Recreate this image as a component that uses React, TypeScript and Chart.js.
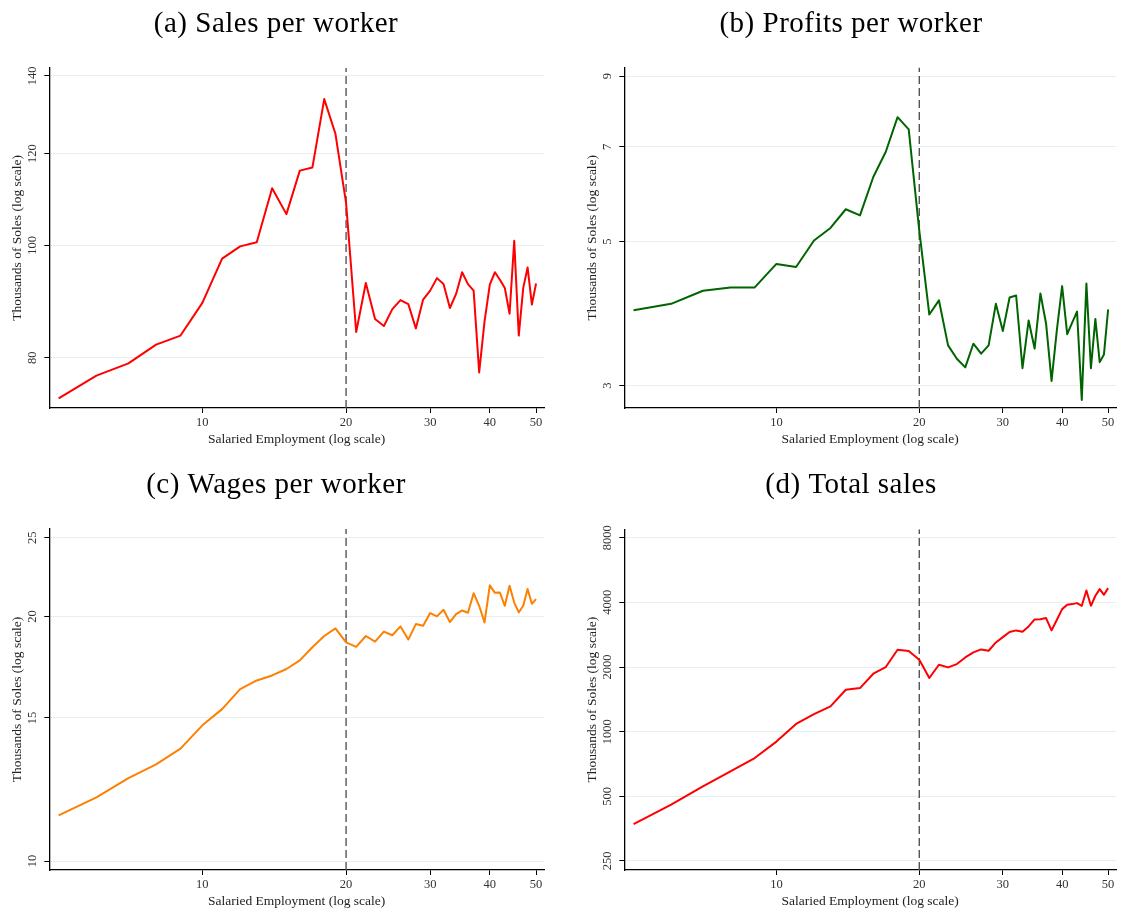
import React, { useEffect, useRef } from "react";
import { Chart, registerables } from "chart.js";

Chart.register(...registerables);

// ---------- data ----------
const employment = [
  5, 6, 7, 8, 9, 10, 11, 12, 13, 14, 15, 16, 17, 18, 19, 20,
  21, 22, 23, 24, 25, 26, 27, 28, 29, 30,
  31, 32, 33, 34, 35, 36, 37, 38, 39, 40,
  41, 42, 43, 44, 45, 46, 47, 48, 49, 50,
];

const salesPerWorker = [
  73.8, 77.2, 79.1, 82.1, 83.6, 89.2, 97.4, 99.8, 100.6, 112.0, 106.4, 116.0, 116.7, 133.7, 124.8, 108.8,
  84.2, 92.8, 86.4, 85.2, 88.1, 89.7, 89.0, 84.8, 89.8, 91.4,
  93.7, 92.6, 88.3, 90.8, 94.8, 92.6, 91.4, 77.7, 86.0, 92.5,
  94.8, 93.4, 91.9, 87.3, 100.9, 83.6, 91.9, 95.7, 88.9, 92.7,
];

const profitsPerWorker = [
  3.92, 4.01, 4.2, 4.25, 4.25, 4.62, 4.57, 5.02, 5.25, 5.61, 5.49, 6.29, 6.88, 7.78, 7.45, 5.2,
  3.86, 4.06, 3.46, 3.3, 3.2, 3.48, 3.36, 3.46, 4.01, 3.64,
  4.1, 4.13, 3.19, 3.78, 3.42, 4.16, 3.74, 3.05, 3.66, 4.27,
  3.6, 3.75, 3.9, 2.85, 4.31, 3.19, 3.8, 3.26, 3.35, 3.93,
];

const wagesPerWorker = [
  11.38, 11.98, 12.65, 13.15, 13.75, 14.69, 15.38, 16.28, 16.68, 16.92, 17.23, 17.66, 18.33, 18.92, 19.33, 18.58,
  18.35, 18.92, 18.62, 19.16, 18.96, 19.44, 18.73, 19.57, 19.48, 20.19,
  20.0, 20.38, 19.68, 20.13, 20.34, 20.21, 21.36, 20.61, 19.66, 21.84,
  21.38, 21.4, 20.61, 21.81, 20.8, 20.23, 20.61, 21.61, 20.73, 21.0,
];

const totalSales = [
  371, 457, 557, 654, 754, 899, 1086, 1208, 1312, 1568, 1596, 1861, 2000, 2407, 2373, 2162,
  1777, 2049, 1992, 2064, 2216, 2339, 2415, 2381, 2603, 2756,
  2909, 2961, 2919, 3090, 3331, 3340, 3379, 2961, 3318, 3720,
  3896, 3925, 3967, 3855, 4544, 3855, 4292, 4609, 4337, 4659,
];

const xTicks = [10, 20, 30, 40, 50];
const salesTicks = [80, 100, 120, 140];
const profitsTicks = [3, 5, 7, 9];
const wagesTicks = [10, 15, 20, 25];
const totalTicks = [250, 500, 1000, 2000, 4000, 8000];
const cutoff = 20;

const xTitle = "Salaried Employment (log scale)";
const yTitle = "Thousands of Soles (log scale)";

const FONT = '"Liberation Serif", "Times New Roman", serif';

type Panel = {
  title: string;
  values: number[];
  color: string;
  yTicks: number[];
  yMin: number;
  yMax: number;
  left: number;
  top: number;
  width: number;
  height: number;
  plotLeft: number;
  plotRight: number;
  plotTop: number;
  plotBottom: number;
  titleX: number;
  titleY: number;
};

const X_MIN = 4.78;
const X_MAX = 51.95;

const panels: Panel[] = [
  {
    title: "(a) Sales per worker",
    values: salesPerWorker,
    color: "#ff0000",
    yTicks: salesTicks,
    yMin: 72.4,
    yMax: 142.3,
    left: 0, top: 0, width: 561, height: 457,
    plotLeft: 49.3, plotRight: 544, plotTop: 67.7, plotBottom: 408,
    titleX: 276, titleY: 32,
  },
  {
    title: "(b) Profits per worker",
    values: profitsPerWorker,
    color: "#006400",
    yTicks: profitsTicks,
    yMin: 2.77,
    yMax: 9.28,
    left: 561, top: 0, width: 561, height: 457,
    plotLeft: 63.3, plotRight: 555, plotTop: 67.5, plotBottom: 408,
    titleX: 290, titleY: 32,
  },
  {
    title: "(c) Wages per worker",
    values: wagesPerWorker,
    color: "#ff7f00",
    yTicks: wagesTicks,
    yMin: 9.75,
    yMax: 25.62,
    left: 0, top: 457, width: 561, height: 457,
    plotLeft: 49.3, plotRight: 544, plotTop: 72, plotBottom: 413,
    titleX: 276, titleY: 36.3,
  },
  {
    title: "(d) Total sales",
    values: totalSales,
    color: "#ff0000",
    yTicks: totalTicks,
    yMin: 227,
    yMax: 8752,
    left: 561, top: 457, width: 561, height: 457,
    plotLeft: 63.3, plotRight: 555, plotTop: 72.3, plotBottom: 413,
    titleX: 290, titleY: 36.3,
  },
];

function PanelChart({ p }: { p: Panel }) {
  const ref = useRef<HTMLCanvasElement | null>(null);

  useEffect(() => {
    if (!ref.current) return;
    const textPlugin = {
      id: "panelText",
      afterDraw(chart: any) {
        const { ctx, chartArea } = chart;
        const ys = chart.scales.y;
        ctx.save();
        // panel title
        ctx.fillStyle = "#000";
        ctx.font = `29px ${FONT}`;
        try {
          (ctx as any).letterSpacing = "0.5px";
        } catch (e) {}
        ctx.textAlign = "center";
        ctx.textBaseline = "alphabetic";
        ctx.fillText(p.title, p.titleX, p.titleY);
        try {
          (ctx as any).letterSpacing = "0px";
        } catch (e) {}
        // rotated y tick labels
        ctx.fillStyle = "#333";
        ctx.font = `12.5px ${FONT}`;
        for (const v of p.yTicks) {
          const py = ys.getPixelForValue(v);
          ctx.save();
          ctx.translate(chartArea.left - 17, py);
          ctx.rotate(-Math.PI / 2);
          ctx.textAlign = "center";
          ctx.textBaseline = "middle";
          ctx.fillText(String(v), 0, 0);
          ctx.restore();
        }
        // y title
        ctx.fillStyle = "#222";
        ctx.font = `13.5px ${FONT}`;
        ctx.save();
        ctx.translate(chartArea.left - 32, (chartArea.top + chartArea.bottom) / 2);
        ctx.rotate(-Math.PI / 2);
        ctx.textAlign = "center";
        ctx.textBaseline = "middle";
        ctx.fillText(yTitle, 0, 0);
        ctx.restore();
        // x title
        ctx.textAlign = "center";
        ctx.textBaseline = "middle";
        ctx.fillText(xTitle, (chartArea.left + chartArea.right) / 2, chartArea.bottom + 31);
        ctx.restore();
      },
    };

    const chart = new Chart(ref.current, {
      type: "line",
      data: {
        datasets: [
          {
            data: employment.map((x, i) => ({ x, y: p.values[i] })),
            borderColor: p.color,
            borderWidth: 2,
            pointRadius: 0,
            tension: 0,
            borderJoinStyle: "round",
            fill: false,
            order: 0,
          },
          {
            data: [
              { x: cutoff, y: p.yMin },
              { x: cutoff, y: p.yMax },
            ],
            borderColor: "#555555",
            borderWidth: 1.4,
            borderDash: [8, 4],
            pointRadius: 0,
            fill: false,
            order: 1,
          },
        ],
      },
      options: {
        animation: false,
        responsive: false,
        devicePixelRatio: 1,
        layout: {
          padding: {
            left: 0,
            top: p.plotTop,
            right: p.width - p.plotRight,
            bottom: 0,
          },
        },
        plugins: {
          legend: { display: false },
          tooltip: { enabled: false },
          title: { display: false },
        },
        scales: {
          x: {
            type: "logarithmic",
            min: X_MIN,
            max: X_MAX,
            afterBuildTicks: (s: any) => {
              s.ticks = xTicks.map((v) => ({ value: v }));
            },
            afterFit: (s: any) => {
              s.height = p.height - p.plotBottom;
            },
            ticks: {
              autoSkip: false,
              maxRotation: 0,
              minRotation: 0,
              padding: 2,
              color: "#333",
              font: { family: FONT, size: 12.5 },
              callback: (v: any) => String(v),
            },
            grid: {
              drawOnChartArea: false,
              drawTicks: true,
              tickLength: 5,
              tickColor: "#000",
              tickWidth: 1,
            },
            border: { display: true, color: "#000", width: 1.3 },
          },
          y: {
            type: "logarithmic",
            min: p.yMin,
            max: p.yMax,
            afterBuildTicks: (s: any) => {
              s.ticks = p.yTicks.map((v) => ({ value: v }));
            },
            afterFit: (s: any) => {
              s.width = p.plotLeft;
            },
            ticks: { display: false },
            grid: {
              color: "#e6eff0",
              lineWidth: 1,
              drawTicks: true,
              tickLength: 5,
              tickColor: "#000",
              tickWidth: 1,
            },
            border: { display: true, color: "#000", width: 1.3 },
          },
        },
      } as any,
      plugins: [textPlugin],
    });
    return () => chart.destroy();
  }, [p]);

  return (
    <canvas
      ref={ref}
      width={p.width}
      height={p.height}
      style={{ position: "absolute", left: p.left, top: p.top, width: p.width, height: p.height }}
    />
  );
}

export default function App() {
  useEffect(() => {
    document.body.style.margin = "0";
  }, []);
  return (
    <div style={{ position: "absolute", left: 0, top: 0, width: 1122, height: 914, background: "#fff" }}>
      {panels.map((p) => (
        <PanelChart key={p.title} p={p} />
      ))}
    </div>
  );
}
